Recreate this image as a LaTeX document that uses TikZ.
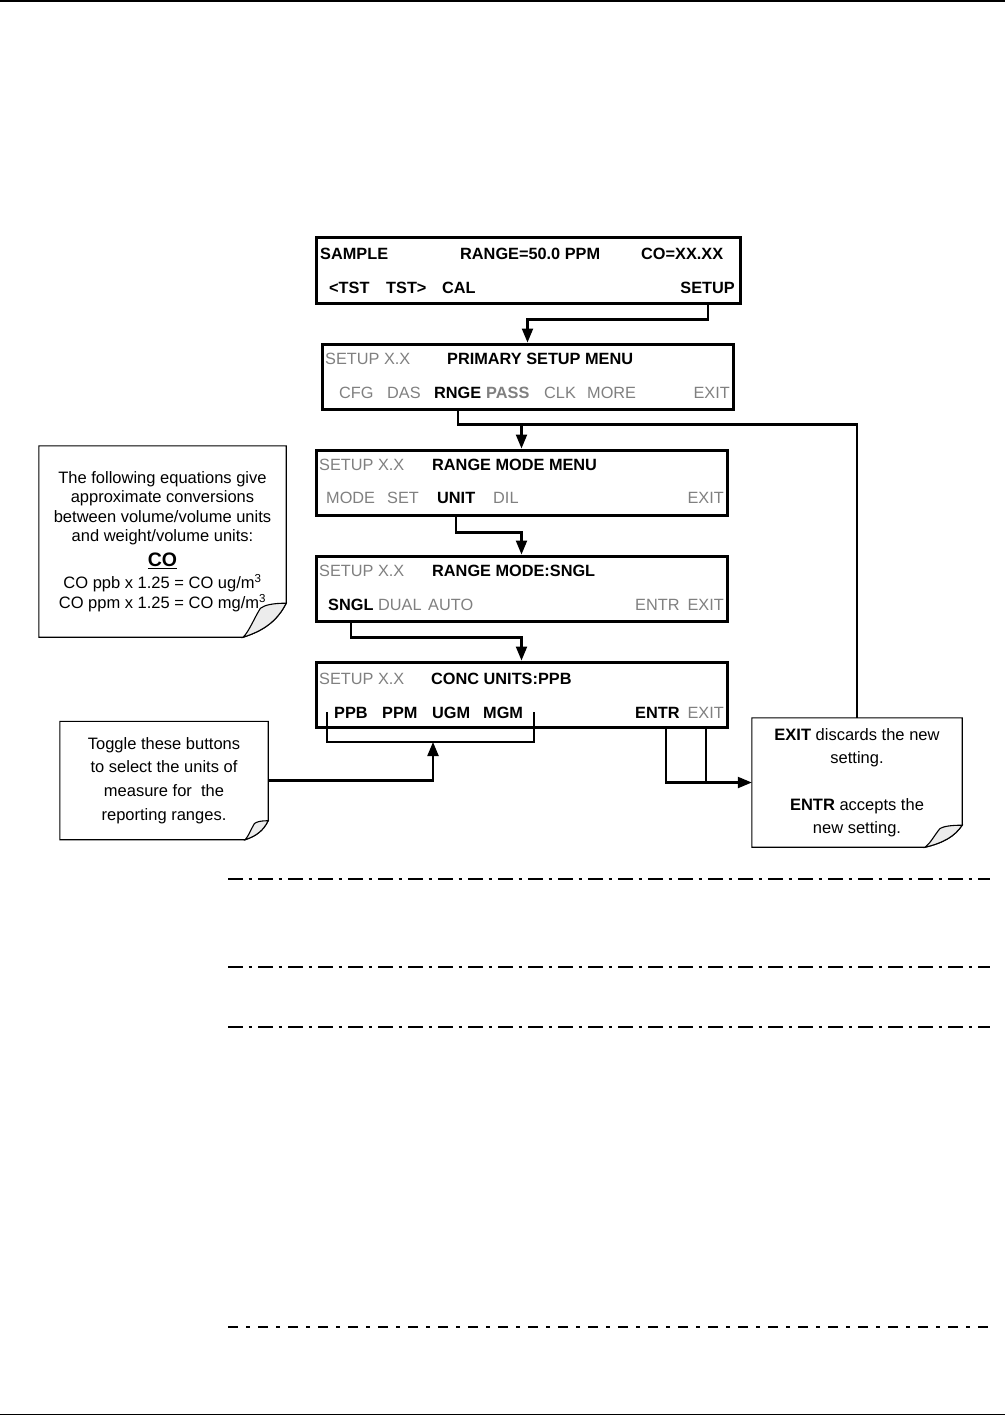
\documentclass[tikz,border=0pt]{standalone}
\usepackage{fontspec}
\setmainfont{Liberation Sans}
\usepackage{tikz}
\usetikzlibrary{arrows.meta}

\definecolor{dimtext}{RGB}{128,128,128}
\newcommand\lcdfont{\fontsize{16.3}{19.5}\selectfont}
% outline of a note with a curled lower right corner
\newcommand\notefold[3]{%
  \draw[line width=1.1pt] (#1.north west) -- (#1.north east) -- ([yshift=#3]#1.south east)
    .. controls ([xshift=-0.2*#2, yshift=0.5*#3]#1.south east) and ([xshift=-0.5*#2, yshift=0.2*#3]#1.south east) .. ([xshift=-#2]#1.south east)
    -- (#1.south west) -- cycle;
  \filldraw[line width=1.1pt, fill=gray!15] ([yshift=#3]#1.south east)
    .. controls ([xshift=-0.3*#2, yshift=#3]#1.south east) and ([xshift=-0.5*#2, yshift=0.95*#3]#1.south east) .. ([xshift=-0.6*#2, yshift=0.85*#3]#1.south east)
    .. controls ([xshift=-0.75*#2, yshift=0.55*#3]#1.south east) and ([xshift=-0.85*#2, yshift=0.2*#3]#1.south east) .. ([xshift=-#2]#1.south east)
    .. controls ([xshift=-0.5*#2, yshift=0.2*#3]#1.south east) and ([xshift=-0.2*#2, yshift=0.5*#3]#1.south east) .. cycle;
}

\begin{document}
\begin{tikzpicture}[x=1pt,y=-1pt,
  screen/.style={draw, line width=3pt, minimum width=411pt, minimum height=65pt, inner sep=0pt},
  key/.style={anchor=base west, inner sep=0pt, font=\lcdfont\bfseries},
  dimkey/.style={anchor=base west, inner sep=0pt, font=\lcdfont, text=dimtext},
  note/.style={inner sep=0pt, align=center},
  flow/.style={line width=2.2pt, -{Triangle[length=14pt,width=11pt]}},
  wire/.style={line width=2.2pt},
  sep/.style={line width=1.1pt, dash pattern=on 15pt off 5.5pt on 3.5pt off 6pt}]
\path[fill=white] (0,0) rectangle (1005,1416);
\useasboundingbox (0,0) rectangle (1005,1416);
\draw[line width=1.5pt] (0,1) -- (1005,1);
\draw[line width=1.5pt] (0,1414.5) -- (1005,1414.5);

% sample display
\node[screen, minimum width=424pt, minimum height=66pt] (S1) at (528,270) {};
\node[key] (sample) at (320,259) {SAMPLE};
\node[key] (range) at (460,259) {RANGE=50.0 PPM};
\node[key] (conc) at (641,259) {CO=XX.XX};
\node[key] (tstl) at (329,293) {<TST};
\node[key] (tstr) at (386,293) {TST>};
\node[key] (cal) at (442,293) {CAL};
\node[key, anchor=base east] (setup) at (735,293) {SETUP};

% primary setup menu
\node[screen] (S2) at (527.5,376.5) {};
\node[dimkey] (ver2) at (325,364) {SETUP X.X};
\node[key] (title2) at (447,364) {PRIMARY SETUP MENU};
\node[dimkey] (cfg) at (339,398) {CFG};
\node[dimkey] (das) at (387,398) {DAS};
\node[key] (rnge) at (434,398) {RNGE};
\node[key, text=dimtext] (pass) at (486,398) {PASS};
\node[dimkey] (clk) at (544,398) {CLK};
\node[dimkey] (more) at (587,398) {MORE};
\node[dimkey, anchor=base east] (exit2) at (730,398) {EXIT};

% range mode menu
\node[screen] (S3) at (521.5,482.5) {};
\node[dimkey] (ver3) at (319,470) {SETUP X.X};
\node[key] (title3) at (432,470) {RANGE MODE MENU};
\node[dimkey] (mode) at (326,503) {MODE};
\node[dimkey] (set) at (387,503) {SET};
\node[key] (unit) at (437,503) {UNIT};
\node[dimkey] (dil) at (493,503) {DIL};
\node[dimkey, anchor=base east] (exit3) at (724,503) {EXIT};

% range mode sngl
\node[screen] (S4) at (521.5,588.5) {};
\node[dimkey] (ver4) at (319,576) {SETUP X.X};
\node[key] (title4) at (432,576) {RANGE MODE:SNGL};
\node[key] (sngl) at (328,610) {SNGL};
\node[dimkey] (dual) at (378,610) {DUAL};
\node[dimkey] (auto) at (428,610) {AUTO};
\node[dimkey] (entr4) at (635,610) {ENTR};
\node[dimkey, anchor=base east] (exit4) at (724,610) {EXIT};

% conc units
\node[screen] (S5) at (521.5,694.5) {};
\node[dimkey] (ver5) at (319,684) {SETUP X.X};
\node[key] (title5) at (431,684) {CONC UNITS:PPB};
\node[key] (ppb) at (334,718) {PPB};
\node[key] (ppm) at (382,718) {PPM};
\node[key] (ugm) at (432,718) {UGM};
\node[key] (mgm) at (483,718) {MGM};
\node[key] (entr5) at (635,718) {ENTR};
\node[dimkey, anchor=base east] (exit5) at (724,718) {EXIT};

% notes
\node[note, minimum width=247pt, minimum height=191pt, font=\fontsize{16.5}{19.5}\selectfont] (conv) at (162.5,541.5)
  {The following equations give\\ approximate conversions\\ between volume/volume units\\ and weight/volume units:\\[5pt]
   {\fontsize{19.5}{22}\selectfont\bfseries\underline{CO}}\\[3pt]
   CO ppb x 1.25 = CO ug/m\textsuperscript{3}\\ CO ppm x 1.25 = CO mg/m\textsuperscript{3}};
\notefold{conv}{43pt}{34pt}
\node[note, minimum width=208pt, minimum height=118pt, font=\fontsize{16.5}{23.7}\selectfont] (toggle) at (164,780.5)
  {Toggle these buttons\\ to select the units of\\ measure for\ \ the\\ reporting ranges.};
\notefold{toggle}{23pt}{19pt}
\node[note, minimum width=210pt, minimum height=129pt, font=\fontsize{16.5}{23.3}\selectfont] (exitnote) at (857,782.5)
  {\textbf{EXIT} discards the new\\ setting.\\[23.3pt] \textbf{ENTR} accepts the\\ new setting.};
\notefold{exitnote}{37pt}{22pt}

% connectors
\draw[flow] (setup |- S1.south) -- ++(0,15) -| (S2.north);
\draw[wire] (rnge |- S2.south) -- ++(0,14) coordinate (split) -| (exitnote.north);
\draw[flow] (split) -| (S3.north);
\draw[flow] (unit |- S3.south) -- ++(0,16) -| (S4.north);
\draw[flow] (sngl |- S4.south) -- ++(0,15) -| (S5.north);
\coordinate (brk) at (433,742);
\draw[wire] ([xshift=-7pt]ppb.west) -- ([xshift=-7pt]ppb.west |- brk) -- ([xshift=11pt]mgm.east |- brk) -- ([xshift=11pt]mgm.east);
\draw[flow] (toggle.east) -| (brk);
\draw[flow] ([xshift=9pt]entr5.south |- S5.south) |- (exitnote.west);
\draw[wire] (exit5 |- S5.south) -- (exit5 |- exitnote.west);

% separators
\draw[sep] (228,879) -- (990,879);
\draw[sep] (228,967) -- (990,967);
\draw[sep] (228,1027) -- (990,1027);
\draw[line width=2.7pt, dash pattern=on 10pt off 8pt on 4pt off 8pt] (228,1327) -- (988,1327);
\end{tikzpicture}
\end{document}
